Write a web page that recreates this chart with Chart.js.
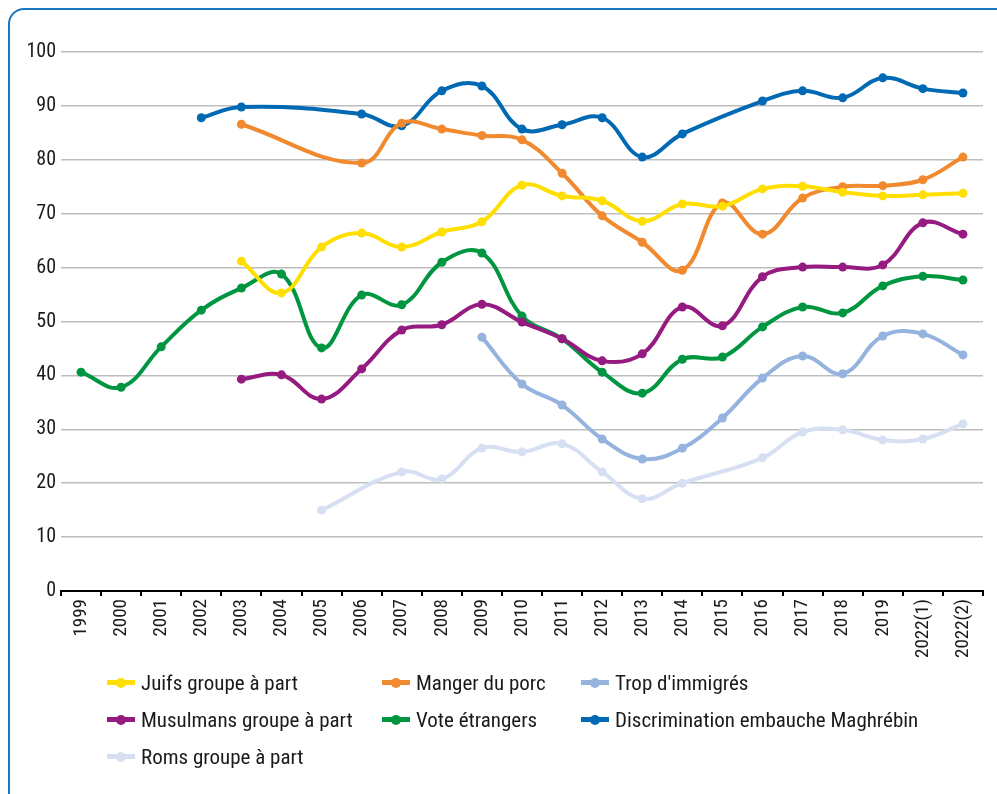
<!DOCTYPE html>
<html lang="fr">
<head>
<meta charset="utf-8">
<title>Indicateurs</title>
<script src="https://cdn.jsdelivr.net/npm/chart.js@4.4.1/dist/chart.umd.min.js"></script>
<style>
  body { margin: 0; width: 997px; height: 794px; overflow: hidden; background: #fff; position: relative;
         font-family: "Roboto Condensed", "Liberation Sans", sans-serif; }
  #frame { position: absolute; left: 8px; top: 8px; width: 1010px; height: 810px;
           border: 2px solid #1b76c2; border-radius: 16px; }
  #wrap { position: absolute; left: 0; top: 0; width: 997px; height: 794px; }
  #legend { position: absolute; left: 107px; top: 664px; display: grid;
            grid-template-columns: 275px 199px 330px; grid-auto-rows: 37px; }
  .item { display: flex; align-items: center; font-size: 21px; color: #1a1a1a; white-space: nowrap; }
  .mk { position: relative; width: 28px; height: 5px; margin-right: 6px; flex: none; }
  .mk i { position: absolute; left: 9px; top: -2.5px; width: 10px; height: 10px; border-radius: 50%; }
</style>
</head>
<body>
<div id="frame"></div>
<div id="wrap"><canvas id="chart"></canvas></div>
<div id="legend"></div>
<script>
  // categories
  var years = ['1999', '2000', '2001', '2002', '2003', '2004', '2005', '2006', '2007', '2008', '2009',
               '2010', '2011', '2012', '2013', '2014', '2015', '2016', '2017', '2018', '2019', '2022(1)', '2022(2)'];

  // series (null = not surveyed)
  var juifs        = [null, null, null, null, 61.2, 55.3, 63.8, 66.4, 63.8, 66.6, 68.5, 75.3, 73.3, 72.4, 68.6, 71.8, 71.4, 74.6, 75.1, 74.0, 73.3, 73.5, 73.8];
  var porc         = [null, null, null, null, 86.6, null, null, 79.4, 86.8, 85.7, 84.5, 83.7, 77.5, 69.6, 64.7, 59.5, 72.0, 66.2, 72.9, 75.0, 75.2, 76.3, 80.5];
  var immigres     = [null, null, null, null, null, null, null, null, null, null, 47.1, 38.4, 34.5, 28.2, 24.5, 26.5, 32.1, 39.5, 43.6, 40.3, 47.3, 47.7, 43.8];
  var musulmans    = [null, null, null, null, 39.3, 40.1, 35.6, 41.2, 48.4, 49.4, 53.2, 49.9, 46.8, 42.7, 44.0, 52.7, 49.2, 58.3, 60.1, 60.1, 60.5, 68.3, 66.2];
  var vote         = [40.6, 37.8, 45.3, 52.1, 56.2, 58.8, 45.1, 54.9, 53.1, 61.0, 62.7, 51.0, 46.8, 40.6, 36.7, 43.0, 43.4, 49.0, 52.7, 51.6, 56.6, 58.4, 57.7];
  var discrim      = [null, null, null, 87.8, 89.8, null, null, 88.5, 86.3, 92.8, 93.7, 85.7, 86.5, 87.8, 80.5, 84.8, null, 90.9, 92.8, 91.5, 95.2, 93.2, 92.4];
  var roms         = [null, null, null, null, null, null, 15.0, null, 22.1, 20.8, 26.5, 25.8, 27.3, 22.1, 17.1, 20.0, null, 24.7, 29.5, 29.9, 28.0, 28.2, 31.0];

  var yTicks = [0, 10, 20, 30, 40, 50, 60, 70, 80, 90, 100];

  var FONT = '"Roboto Condensed", "Liberation Sans", sans-serif';

  function serie(label, data, color) {
    return {
      label: label, data: data,
      borderColor: color, backgroundColor: color,
      pointBackgroundColor: color, pointBorderWidth: 0,
      pointRadius: 4.5, borderWidth: 4, tension: 0.4, spanGaps: true, fill: false
    };
  }

  var datasets = [
    serie('Juifs groupe à part', juifs, '#ffdf00'),
    serie('Manger du porc', porc, '#f18a2e'),
    serie("Trop d'immigrés", immigres, '#95b3df'),
    serie('Musulmans groupe à part', musulmans, '#951b81'),
    serie('Vote étrangers', vote, '#009640'),
    serie('Discrimination embauche Maghrébin', discrim, '#0069b4'),
    serie('Roms groupe à part', roms, '#d6e0f2')
  ];

  var chart = new Chart(document.getElementById('chart'), {
    type: 'line',
    data: { labels: years, datasets: datasets },
    options: {
      responsive: true,
      maintainAspectRatio: false,
      animation: false,
      layout: { padding: { left: 0, right: 14, top: 52, bottom: 129 } },
      plugins: { legend: { display: false }, tooltip: { enabled: false } },
      scales: {
        x: {
          offset: true,
          grid: { display: true, drawOnChartArea: false, offset: true, color: '#000', lineWidth: 2, tickLength: 5 },
          border: { display: true, color: '#000', width: 2 },
          ticks: { autoSkip: false, minRotation: 90, maxRotation: 90, padding: 3, color: '#1a1a1a',
                   font: { family: FONT, size: 19 } },
          afterFit: function (scale) { scale.height = 74; }
        },
        y: {
          min: 0, max: 100,
          afterBuildTicks: function (scale) { scale.ticks = yTicks.map(function (v) { return { value: v }; }); },
          grid: { color: '#bdbdbd', lineWidth: 1.5, drawTicks: false },
          border: { display: false },
          ticks: { padding: 5, color: '#1a1a1a', font: { family: FONT, size: 20 } },
          afterFit: function (scale) { scale.width = 61; }
        }
      }
    }
  });

  // HTML legend built from the chart's datasets
  var legend = document.getElementById('legend');
  chart.data.datasets.forEach(function (ds) {
    var item = document.createElement('div');
    item.className = 'item';
    var mk = document.createElement('span');
    mk.className = 'mk';
    mk.style.background = ds.borderColor;
    var dot = document.createElement('i');
    dot.style.background = ds.borderColor;
    mk.appendChild(dot);
    item.appendChild(mk);
    item.appendChild(document.createTextNode(ds.label));
    legend.appendChild(item);
  });
</script>
</body>
</html>
